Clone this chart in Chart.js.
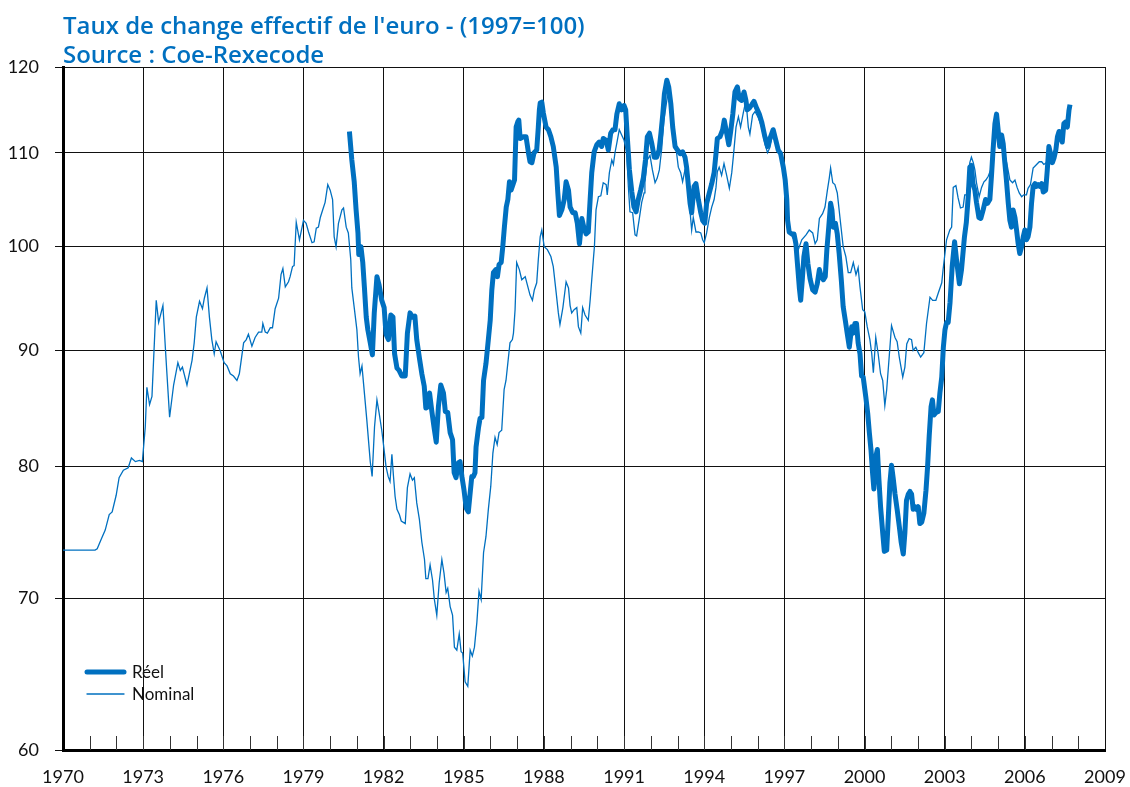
<!DOCTYPE html>
<html>
<head>
<meta charset="utf-8">
<script src="https://cdn.jsdelivr.net/npm/chart.js@4.4.1/dist/chart.umd.min.js"></script>
<style>
  html, body { margin: 0; padding: 0; background: #fff; }
  #wrap { width: 1130px; height: 787px; position: relative; }
</style>
</head>
<body>
<div id="wrap"><canvas id="graficoEuro"></canvas></div>
<script>
const titre = ["Taux de change effectif de l'euro - (1997=100)", 'Source : Coe-Rexecode'];
const yTicks = [60, 70, 80, 90, 100, 110, 120];

// Réel (from end of 1980)
const reelDates = [1980.72, 1980.81, 1980.9, 1980.97, 1981.04, 1981.07, 1981.15, 1981.22, 1981.28, 1981.35, 1981.41, 1981.5, 1981.58, 1981.65, 1981.75, 1981.83, 1981.93,
  1982.02, 1982.09, 1982.18, 1982.27, 1982.35, 1982.41, 1982.5, 1982.58, 1982.68, 1982.81, 1982.89, 1982.99, 1983.08, 1983.17, 1983.24, 1983.34, 1983.43, 1983.52,
  1983.58, 1983.66, 1983.72, 1983.8, 1983.89, 1983.97, 1984.05, 1984.14, 1984.24, 1984.31, 1984.4, 1984.49, 1984.58, 1984.64, 1984.71, 1984.8, 1984.86, 1984.93,
  1985.01, 1985.09, 1985.17, 1985.24, 1985.3, 1985.36, 1985.42, 1985.46, 1985.55, 1985.61, 1985.68, 1985.74, 1985.83, 1985.92, 1985.99, 1986.05, 1986.11, 1986.2,
  1986.26, 1986.32, 1986.4, 1986.46, 1986.52, 1986.59, 1986.65, 1986.71, 1986.77, 1986.84, 1986.9, 1986.96, 1987.02, 1987.06, 1987.11, 1987.23, 1987.33, 1987.42,
  1987.48, 1987.55, 1987.63, 1987.73, 1987.79, 1987.83, 1987.86, 1987.92, 1987.98, 1988.08, 1988.17, 1988.26, 1988.35, 1988.46, 1988.52, 1988.58, 1988.67, 1988.76,
  1988.83, 1988.92, 1988.98, 1989.08, 1989.17, 1989.25, 1989.33, 1989.42, 1989.5, 1989.58, 1989.66, 1989.73, 1989.79, 1989.88, 1989.98, 1990.07, 1990.16, 1990.22,
  1990.33, 1990.41, 1990.5, 1990.58, 1990.66, 1990.73, 1990.82, 1990.91, 1991.0, 1991.06, 1991.12, 1991.2, 1991.29, 1991.37, 1991.45, 1991.53, 1991.62, 1991.72,
  1991.8, 1991.87, 1991.95, 1992.04, 1992.13, 1992.22, 1992.31, 1992.38, 1992.45, 1992.51, 1992.6, 1992.67, 1992.75, 1992.82, 1992.91, 1993.0, 1993.1, 1993.19,
  1993.28, 1993.34, 1993.4, 1993.47, 1993.53, 1993.62, 1993.69, 1993.78, 1993.87, 1993.94, 1994.02, 1994.09, 1994.19, 1994.28, 1994.37, 1994.44, 1994.49, 1994.59,
  1994.69, 1994.75, 1994.84, 1994.92, 1994.99, 1995.07, 1995.15, 1995.24, 1995.31, 1995.4, 1995.49, 1995.56, 1995.61, 1995.69, 1995.78, 1995.86, 1995.96, 1996.06,
  1996.15, 1996.27, 1996.37, 1996.46, 1996.58, 1996.68, 1996.77, 1996.86, 1996.96, 1997.03, 1997.09, 1997.12, 1997.18, 1997.27, 1997.36, 1997.43, 1997.5, 1997.56,
  1997.61, 1997.67, 1997.73, 1997.81, 1997.88, 1997.96, 1998.06, 1998.15, 1998.23, 1998.31, 1998.38, 1998.46, 1998.53, 1998.59, 1998.66, 1998.73, 1998.78, 1998.83,
  1998.91, 1998.98, 1999.05, 1999.13, 1999.2, 1999.28, 1999.35, 1999.43, 1999.52, 1999.58, 1999.64, 1999.7, 1999.76, 1999.83, 1999.89, 1999.95, 2000.05, 2000.12,
  2000.18, 2000.24, 2000.3, 2000.35, 2000.42, 2000.48, 2000.54, 2000.6, 2000.68, 2000.74, 2000.83, 2000.89, 2000.95, 2001.01, 2001.07, 2001.14, 2001.22, 2001.3,
  2001.37, 2001.45, 2001.51, 2001.57, 2001.64, 2001.7, 2001.76, 2001.82, 2001.89, 2001.95, 2002.01, 2002.07, 2002.14, 2002.22, 2002.3, 2002.36, 2002.42, 2002.49,
  2002.54, 2002.6, 2002.67, 2002.76, 2002.82, 2002.89, 2002.95, 2003.01, 2003.07, 2003.13, 2003.2, 2003.28, 2003.37, 2003.45, 2003.55, 2003.63, 2003.74, 2003.81,
  2003.88, 2003.94, 2004.0, 2004.06, 2004.13, 2004.19, 2004.28, 2004.35, 2004.44, 2004.53, 2004.6, 2004.69, 2004.75, 2004.81, 2004.88, 2004.94, 2005.0, 2005.06,
  2005.13, 2005.19, 2005.25, 2005.31, 2005.38, 2005.44, 2005.5, 2005.56, 2005.63, 2005.69, 2005.75, 2005.81, 2005.88, 2005.94, 2006.0, 2006.06, 2006.12, 2006.19,
  2006.25, 2006.31, 2006.38, 2006.44, 2006.5, 2006.56, 2006.63, 2006.69, 2006.78, 2006.84, 2006.9, 2006.97, 2007.03, 2007.09, 2007.16, 2007.22, 2007.28, 2007.34,
  2007.4, 2007.46, 2007.53, 2007.59, 2007.65, 2007.69];
const reelValues = [112.4, 109.2, 106.8, 103.8, 101.4, 99.2, 100.0, 98.4, 96.0, 93.1, 91.9, 90.7, 89.6, 93.5, 97.0, 96.2, 94.7,
  94.0, 91.5, 91.0, 93.3, 93.1, 89.7, 88.4, 88.2, 87.7, 87.7, 91.6, 93.5, 93.1, 93.2, 91.0, 89.3, 87.9, 86.8,
  84.9, 85.0, 86.2, 84.7, 83.2, 82.0, 85.0, 86.9, 86.2, 84.6, 84.5, 82.8, 82.2, 79.5, 79.1, 80.3, 80.4, 79.2,
  78.1, 76.7, 76.4, 77.9, 79.2, 79.2, 79.5, 81.6, 83.2, 84.0, 84.1, 87.3, 88.8, 91.0, 92.8, 95.7, 97.4, 97.7,
  97.0, 98.2, 98.4, 100.0, 102.0, 104.1, 104.9, 106.8, 105.9, 106.5, 107.0, 112.9, 113.5, 113.7, 111.6, 111.8, 111.8, 110.0,
  109.0, 108.9, 110.0, 110.3, 112.9, 114.9, 115.7, 115.8, 114.5, 112.9, 112.6, 111.8, 110.7, 108.4, 105.6, 103.2, 103.8, 104.9,
  106.8, 105.9, 104.1, 103.5, 103.5, 102.4, 100.3, 102.9, 101.9, 101.3, 101.5, 104.9, 107.8, 110.1, 110.9, 111.2, 110.7, 111.6,
  111.4, 110.3, 112.2, 112.6, 112.6, 114.4, 115.6, 114.9, 115.4, 114.9, 111.8, 108.1, 105.7, 104.1, 103.6, 104.9, 105.9, 107.2,
  109.2, 111.8, 112.2, 111.0, 109.5, 109.5, 110.3, 112.2, 114.4, 116.8, 118.4, 117.6, 115.6, 112.9, 110.7, 110.3, 109.9, 110.1,
  109.5, 108.4, 106.6, 104.5, 103.5, 106.3, 106.6, 104.9, 103.5, 102.7, 102.4, 104.5, 105.6, 106.6, 107.8, 109.9, 111.6, 111.8,
  112.6, 113.7, 112.2, 110.9, 112.4, 114.4, 117.0, 117.6, 116.2, 116.0, 117.0, 116.0, 114.9, 115.1, 115.5, 115.9, 115.1, 114.4,
  113.5, 111.8, 110.7, 111.6, 112.6, 111.4, 110.3, 109.9, 108.4, 107.0, 104.9, 102.7, 101.5, 101.3, 101.3, 100.3, 97.9, 95.9,
  94.7, 96.7, 99.0, 100.3, 98.3, 96.8, 95.7, 95.5, 96.3, 97.7, 97.0, 96.7, 97.0, 99.7, 102.0, 104.5, 103.8, 102.0,
  102.4, 101.3, 99.3, 96.7, 94.1, 92.8, 91.6, 90.3, 92.2, 91.6, 92.5, 92.5, 90.7, 89.7, 87.7, 87.6, 85.8, 84.4,
  82.8, 81.4, 79.5, 78.2, 80.8, 81.4, 78.9, 76.8, 74.8, 73.4, 73.5, 76.0, 78.7, 80.1, 79.1, 77.8, 76.6, 75.3,
  74.1, 73.2, 74.8, 77.3, 77.8, 78.0, 77.8, 76.6, 76.8, 76.6, 76.8, 75.5, 75.6, 76.3, 78.1, 80.0, 82.5, 85.0,
  85.6, 84.3, 84.5, 84.6, 86.2, 87.6, 90.3, 91.9, 92.6, 92.6, 94.5, 98.0, 100.5, 98.5, 96.3, 97.7, 101.0, 102.5,
  105.2, 108.4, 108.6, 106.6, 105.9, 104.6, 103.0, 102.9, 103.8, 104.9, 104.5, 104.9, 107.4, 110.3, 113.3, 114.4, 112.6, 110.7,
  112.0, 111.0, 108.9, 107.0, 104.5, 102.7, 102.0, 103.8, 103.0, 101.7, 100.3, 99.3, 100.0, 101.0, 101.7, 100.7, 101.0, 102.0,
  104.5, 106.3, 106.6, 106.3, 106.5, 106.3, 106.6, 105.7, 105.9, 108.1, 110.7, 109.8, 108.9, 109.4, 110.3, 111.8, 112.4, 111.8,
  111.2, 113.3, 113.5, 112.9, 114.8, 115.5];

// Nominal (from 1970)
const nominalDates = [1970.0, 1970.65, 1971.2, 1971.28, 1971.43, 1971.58, 1971.73, 1971.84, 1971.99, 1972.1, 1972.26, 1972.44, 1972.56, 1972.71, 1972.86, 1972.97,
  1973.08, 1973.14, 1973.24, 1973.33, 1973.49, 1973.58, 1973.74, 1973.83, 1973.89, 1973.99, 1974.14, 1974.3, 1974.39, 1974.47, 1974.64, 1974.83, 1974.91, 1974.99,
  1975.11, 1975.22, 1975.29, 1975.39, 1975.48, 1975.57, 1975.66, 1975.73, 1975.88, 1976.03, 1976.14, 1976.26, 1976.38, 1976.51, 1976.6, 1976.76, 1976.86, 1976.94,
  1977.07, 1977.19, 1977.32, 1977.44, 1977.48, 1977.57, 1977.65, 1977.76, 1977.84, 1977.94, 1978.07, 1978.16, 1978.23, 1978.32, 1978.44, 1978.5, 1978.59, 1978.65,
  1978.73, 1978.85, 1979.0, 1979.1, 1979.19, 1979.32, 1979.4, 1979.48, 1979.56, 1979.63, 1979.73, 1979.81, 1979.91, 1980.0, 1980.09, 1980.15, 1980.22, 1980.31,
  1980.44, 1980.5, 1980.6, 1980.68, 1980.77, 1980.81, 1980.9, 1981.0, 1981.06, 1981.12, 1981.19, 1981.25, 1981.37, 1981.5, 1981.57, 1981.66, 1981.75, 1981.83,
  1981.93, 1981.99, 1982.09, 1982.17, 1982.24, 1982.31, 1982.37, 1982.43, 1982.5, 1982.59, 1982.66, 1982.81, 1982.89, 1982.99, 1983.08, 1983.15, 1983.24, 1983.34,
  1983.43, 1983.53, 1983.58, 1983.66, 1983.74, 1983.83, 1983.9, 1983.99, 1984.08, 1984.18, 1984.26, 1984.34, 1984.4, 1984.49, 1984.58, 1984.65, 1984.74, 1984.83,
  1984.9, 1984.96, 1985.05, 1985.15, 1985.24, 1985.32, 1985.4, 1985.49, 1985.57, 1985.65, 1985.74, 1985.83, 1985.92, 1986.01, 1986.09, 1986.17, 1986.25, 1986.32,
  1986.42, 1986.51, 1986.58, 1986.73, 1986.82, 1986.86, 1986.92, 1986.98, 1987.08, 1987.17, 1987.3, 1987.38, 1987.48, 1987.57, 1987.64, 1987.73, 1987.79, 1987.86,
  1987.92, 1988.01, 1988.13, 1988.26, 1988.35, 1988.46, 1988.54, 1988.6, 1988.71, 1988.83, 1988.92, 1988.98, 1989.04, 1989.13, 1989.23, 1989.29, 1989.38, 1989.45,
  1989.54, 1989.66, 1989.73, 1989.79, 1989.85, 1989.89, 1989.95, 1990.04, 1990.13, 1990.22, 1990.33, 1990.37, 1990.45, 1990.54, 1990.6, 1990.66, 1990.73, 1990.82,
  1990.91, 1991.0, 1991.1, 1991.16, 1991.22, 1991.32, 1991.41, 1991.47, 1991.56, 1991.66, 1991.75, 1991.78, 1991.87, 1991.97, 1992.06, 1992.16, 1992.24, 1992.32,
  1992.41, 1992.49, 1992.6, 1992.66, 1992.72, 1992.78, 1992.84, 1992.94, 1993.03, 1993.12, 1993.19, 1993.28, 1993.37, 1993.44, 1993.53, 1993.59, 1993.69, 1993.78,
  1993.87, 1993.94, 1994.0, 1994.09, 1994.19, 1994.28, 1994.37, 1994.44, 1994.49, 1994.56, 1994.65, 1994.74, 1994.84, 1994.94, 1995.03, 1995.09, 1995.19, 1995.28,
  1995.36, 1995.46, 1995.56, 1995.65, 1995.71, 1995.81, 1995.9, 1996.02, 1996.15, 1996.27, 1996.37, 1996.46, 1996.56, 1996.65, 1996.73, 1996.83, 1996.94, 1997.02,
  1997.11, 1997.21, 1997.31, 1997.4, 1997.52, 1997.65, 1997.81, 1997.93, 1998.06, 1998.15, 1998.23, 1998.31, 1998.43, 1998.52, 1998.61, 1998.68, 1998.73, 1998.81,
  1998.89, 1998.98, 1999.08, 1999.2, 1999.3, 1999.39, 1999.48, 1999.58, 1999.68, 1999.76, 1999.83, 1999.93, 2000.01, 2000.1, 2000.2, 2000.27, 2000.33, 2000.42,
  2000.51, 2000.6, 2000.68, 2000.76, 2000.83, 2000.95, 2001.01, 2001.14, 2001.22, 2001.3, 2001.43, 2001.51, 2001.58, 2001.67, 2001.76, 2001.82, 2001.92, 2002.01,
  2002.1, 2002.22, 2002.32, 2002.45, 2002.55, 2002.67, 2002.76, 2002.89, 2002.94, 2003.07, 2003.19, 2003.26, 2003.32, 2003.42, 2003.5, 2003.59, 2003.69, 2003.75,
  2003.82, 2003.88, 2003.94, 2004.0, 2004.07, 2004.13, 2004.19, 2004.29, 2004.38, 2004.47, 2004.54, 2004.63, 2004.72, 2004.8, 2004.88, 2004.94, 2005.04, 2005.13,
  2005.22, 2005.32, 2005.44, 2005.54, 2005.63, 2005.71, 2005.79, 2005.88, 2005.96, 2006.06, 2006.12, 2006.21, 2006.31, 2006.44, 2006.54, 2006.63, 2006.71, 2006.81,
  2006.91, 2007.0, 2007.09, 2007.19, 2007.28, 2007.37, 2007.46, 2007.53, 2007.6, 2007.66];
const nominalValues = [73.5, 73.5, 73.5, 73.6, 74.3, 75.0, 76.2, 76.4, 77.7, 79.1, 79.7, 79.9, 80.7, 80.4, 80.5, 80.4,
  83.3, 86.7, 85.2, 85.9, 94.7, 92.6, 94.2, 90.3, 87.9, 84.1, 86.9, 88.9, 88.2, 88.5, 86.9, 89.1, 90.7, 93.1,
  94.6, 93.9, 94.9, 95.9, 93.1, 91.0, 89.7, 90.8, 90.0, 88.9, 88.6, 87.9, 87.7, 87.3, 87.9, 90.7, 91.0, 91.5,
  90.4, 91.2, 91.7, 91.7, 92.5, 91.7, 91.6, 92.1, 92.1, 93.9, 94.9, 97.2, 97.8, 96.0, 96.5, 97.0, 98.0, 98.1,
  102.5, 100.7, 102.7, 102.4, 101.5, 100.4, 100.5, 101.9, 102.0, 103.0, 103.9, 104.6, 106.5, 105.9, 104.9, 101.0, 100.0, 102.4,
  103.8, 104.0, 102.0, 101.4, 98.7, 95.9, 94.0, 91.9, 89.4, 87.9, 88.6, 87.0, 83.9, 80.4, 79.2, 83.3, 85.6, 84.5,
  83.0, 81.9, 80.0, 79.2, 78.8, 81.0, 79.2, 77.6, 76.6, 76.2, 75.7, 75.5, 78.3, 79.4, 78.9, 79.1, 77.1, 75.8,
  74.1, 72.8, 71.4, 71.4, 72.4, 71.3, 69.9, 68.8, 71.1, 72.8, 71.8, 70.4, 70.7, 69.4, 68.8, 66.6, 66.4, 67.5,
  66.3, 66.2, 64.3, 64.0, 66.4, 66.0, 66.6, 68.3, 70.5, 69.9, 73.3, 74.5, 76.6, 78.4, 81.1, 82.4, 81.8, 82.8,
  83.0, 86.5, 87.3, 90.7, 91.0, 91.6, 93.8, 98.4, 97.7, 96.7, 97.0, 96.2, 95.2, 94.7, 95.7, 96.4, 98.7, 101.0,
  101.7, 100.0, 99.7, 99.0, 98.0, 95.4, 93.5, 92.4, 94.0, 96.5, 95.9, 94.2, 93.5, 93.8, 94.0, 92.2, 91.6, 94.0,
  93.3, 92.8, 94.7, 96.7, 98.7, 100.0, 103.8, 105.2, 105.3, 106.7, 106.5, 105.4, 107.8, 109.2, 108.7, 110.0, 111.1, 112.6,
  112.0, 111.4, 110.0, 106.3, 103.6, 103.5, 101.2, 101.1, 102.7, 104.6, 105.6, 106.7, 109.2, 109.7, 108.1, 106.7, 107.2, 108.1,
  110.5, 113.7, 116.0, 117.0, 115.7, 113.5, 112.2, 110.6, 108.4, 107.8, 106.8, 108.1, 108.4, 104.6, 101.7, 103.0, 101.5, 101.5,
  101.4, 100.7, 100.4, 101.4, 103.0, 104.1, 104.9, 106.2, 107.9, 108.4, 107.5, 108.8, 107.5, 106.1, 107.8, 109.6, 112.9, 114.1,
  112.9, 114.5, 116.0, 112.9, 112.1, 114.3, 114.7, 114.0, 112.9, 111.0, 110.0, 110.6, 112.1, 111.7, 110.6, 109.9, 108.4, 106.7,
  103.8, 101.7, 100.9, 100.7, 99.7, 100.7, 101.2, 101.7, 101.4, 100.3, 100.7, 102.9, 103.4, 104.1, 105.9, 107.2, 108.3, 106.7,
  106.5, 105.6, 103.0, 100.0, 99.0, 97.4, 97.4, 98.4, 97.2, 97.9, 96.0, 93.8, 93.6, 92.2, 91.0, 89.7, 88.0, 91.2,
  89.7, 87.9, 87.3, 85.1, 86.5, 90.3, 92.3, 91.2, 90.8, 89.4, 87.6, 88.5, 90.6, 91.1, 91.0, 90.0, 90.3, 89.8,
  89.4, 89.8, 92.5, 95.0, 94.7, 94.7, 95.4, 96.4, 97.7, 100.7, 101.7, 102.0, 106.2, 106.4, 105.1, 104.0, 104.1, 105.4,
  105.4, 106.7, 108.9, 109.5, 108.9, 108.1, 106.7, 105.2, 106.2, 106.8, 107.0, 107.4, 108.1, 109.2, 111.7, 113.3, 111.6, 110.6,
  110.1, 108.9, 107.0, 106.7, 107.0, 106.2, 105.6, 105.2, 105.4, 105.4, 106.1, 106.5, 108.3, 108.7, 109.0, 109.0, 108.7, 108.9,
  109.8, 109.5, 110.0, 111.1, 112.3, 111.8, 113.1, 113.1, 113.7, 113.2];

const bleu = 'rgb(0, 112, 192)';

const toPoints = (dates, values) => dates.map((d, i) => ({ x: d, y: values[i] }));

// petits traits annuels sur l'axe du bas
const minorTicks = {
  id: 'minorTicks',
  afterDatasetsDraw(chart) {
    const { ctx, chartArea, scales } = chart;
    ctx.save();
    ctx.strokeStyle = '#333';
    ctx.lineWidth = 1;
    for (let an = 1971; an < 2009; an++) {
      const x = Math.round(scales.x.getPixelForValue(an)) + 0.5;
      ctx.beginPath();
      ctx.moveTo(x, chartArea.bottom);
      ctx.lineTo(x, chartArea.bottom - 14);
      ctx.stroke();
    }
    ctx.restore();
  }
};

// titre en haut à gauche
const titrePlugin = {
  id: 'titrePlugin',
  afterDraw(chart) {
    const { ctx, chartArea } = chart;
    ctx.save();
    ctx.fillStyle = bleu;
    ctx.font = '600 24px "Open Sans"';
    ctx.textBaseline = 'alphabetic';
    ctx.fillText(titre[0], chartArea.left, 34);
    ctx.fillText(titre[1], chartArea.left, 63);
    ctx.restore();
  }
};

// légende dans la zone du graphique, en bas à gauche
const legendeInterne = {
  id: 'legendeInterne',
  afterDraw(chart) {
    const { ctx, chartArea } = chart;
    ctx.save();
    ctx.font = '17px Lato';
    ctx.textBaseline = 'middle';
    chart.data.datasets.forEach((ds, i) => {
      const y = chartArea.bottom - 78 + i * 22;
      ctx.strokeStyle = ds.borderColor;
      ctx.lineWidth = ds.borderWidth;
      ctx.lineCap = 'round';
      ctx.beginPath();
      ctx.moveTo(chartArea.left + 24, y);
      ctx.lineTo(chartArea.left + 61, y);
      ctx.stroke();
      ctx.fillStyle = '#111';
      ctx.fillText(ds.label, chartArea.left + 69, y + 1);
    });
    ctx.restore();
  }
};

const ctx = document.getElementById('graficoEuro').getContext('2d');

new Chart(ctx, {
  type: 'line',
  data: {
    datasets: [{
      label: 'Réel',
      data: toPoints(reelDates, reelValues),
      borderColor: bleu,
      borderWidth: 5,
      borderJoinStyle: 'round',
      pointRadius: 0,
      tension: 0
    }, {
      label: 'Nominal',
      data: toPoints(nominalDates, nominalValues),
      borderColor: bleu,
      borderWidth: 1.3,
      pointRadius: 0,
      tension: 0
    }]
  },
  options: {
    responsive: true,
    maintainAspectRatio: false,
    animation: false,
    layout: { padding: { top: 67, right: 25, left: 0, bottom: 0 } },
    plugins: {
      legend: { display: false },
      tooltip: { enabled: false }
    },
    scales: {
      x: {
        type: 'linear',
        min: 1970,
        max: 2009,
        afterFit: (scale) => {
          scale.height = 37;
          scale.paddingLeft = 0;
          scale.paddingRight = 0;
        },
        ticks: {
          stepSize: 3,
          color: '#111',
          padding: 16,
          font: { family: 'Lato', size: 18 },
          callback: (v) => String(v)
        },
        grid: { color: '#111', lineWidth: 1, drawTicks: false },
        border: { color: '#000', width: 3 }
      },
      y: {
        type: 'logarithmic',
        min: 60,
        max: 120,
        afterFit: (scale) => {
          scale.width = 63;
          scale.paddingTop = 0;
          scale.paddingBottom = 0;
        },
        afterBuildTicks: (scale) => { scale.ticks = yTicks.map((v) => ({ value: v })); },
        ticks: {
          color: '#111',
          padding: 16,
          font: { family: 'Lato', size: 18 },
          callback: (v) => String(v)
        },
        grid: { color: '#111', lineWidth: 1, tickLength: 8 },
        border: { color: '#000', width: 3 }
      }
    }
  },
  plugins: [minorTicks, titrePlugin, legendeInterne]
});
</script>
</body>
</html>
